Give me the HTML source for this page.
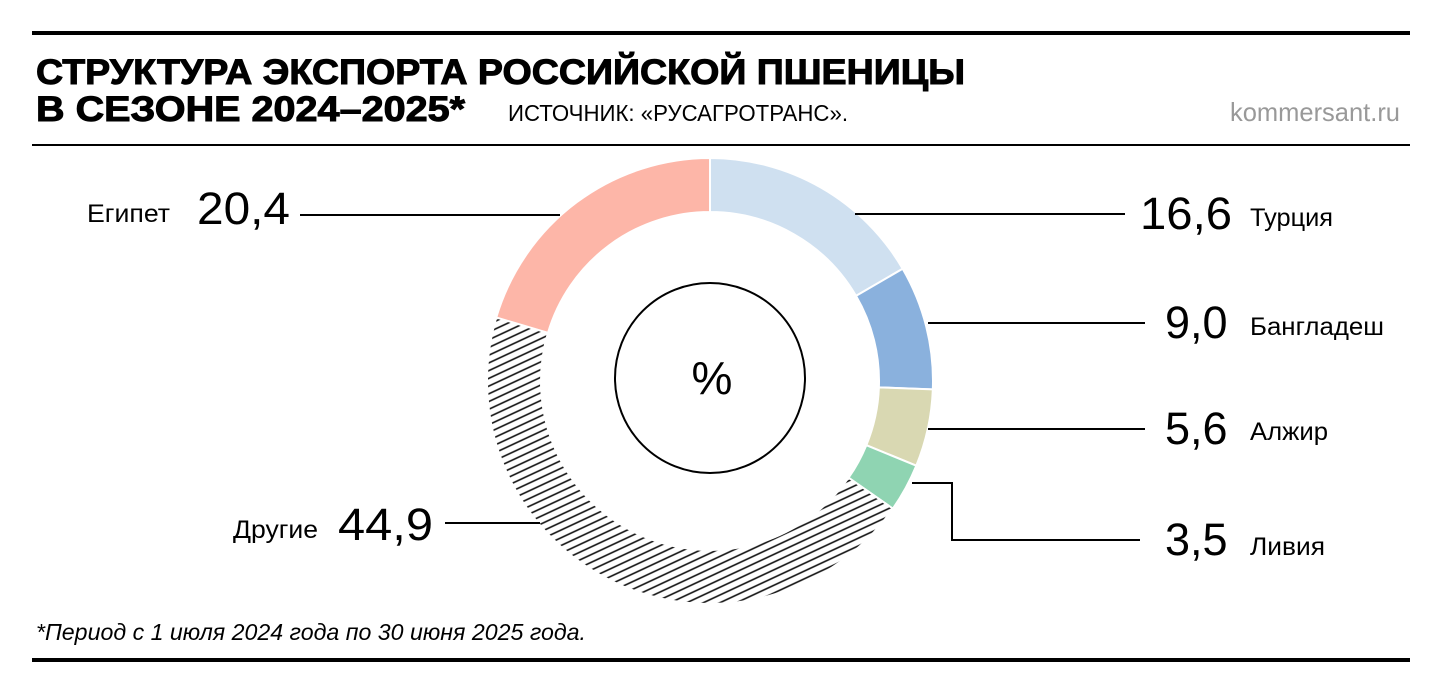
<!DOCTYPE html>
<html><head><meta charset="utf-8"><style>
body{margin:0;background:#fff;}
svg{display:block;font-family:"Liberation Sans",sans-serif;}
</style></head><body>
<svg width="1440" height="694" viewBox="0 0 1440 694">
<defs>
<pattern id="h" patternUnits="userSpaceOnUse" width="7" height="7" patternTransform="rotate(-25)">
<rect width="7" height="7" fill="#fff"/><line x1="0" y1="3.5" x2="7" y2="3.5" stroke="#111" stroke-width="1.6"/>
</pattern>
</defs>
<rect x="32" y="31" width="1378" height="4" fill="#000"/>
<rect x="32" y="144" width="1378" height="2" fill="#000"/>
<rect x="32" y="658" width="1378" height="4" fill="#000"/>
<text x="36" y="84" font-size="35" font-weight="900" textLength="929" lengthAdjust="spacingAndGlyphs" stroke="#000" stroke-width="1">СТРУКТУРА ЭКСПОРТА РОССИЙСКОЙ ПШЕНИЦЫ</text>
<text x="36" y="121" font-size="35" font-weight="900" textLength="429" lengthAdjust="spacingAndGlyphs" stroke="#000" stroke-width="1">В СЕЗОНЕ 2024–2025*</text>
<text x="508" y="121" font-size="23" textLength="340" lengthAdjust="spacingAndGlyphs">ИСТОЧНИК: «РУСАГРОТРАНС».</text>
<text x="1230" y="121" font-size="26" fill="#999" textLength="170" lengthAdjust="spacingAndGlyphs">kommersant.ru</text>
<g stroke="#fff" stroke-width="2">
<path d="M710,158 A223,223 0 0 1 902.67,268.72 L856.02,295.91 A169,169 0 0 0 710,212 Z" fill="#cfe0f0"/>
<path d="M902.67,268.72 A223,223 0 0 1 932.84,389.40 L878.88,387.37 A169,169 0 0 0 856.02,295.91 Z" fill="#8ab1dd"/>
<path d="M932.84,389.40 A223,223 0 0 1 916.29,465.70 L866.33,445.19 A169,169 0 0 0 878.88,387.37 Z" fill="#d9d8b2"/>
<path d="M916.29,465.70 A223,223 0 0 1 892.86,508.64 L848.58,477.73 A169,169 0 0 0 866.33,445.19 Z" fill="#8fd4b2"/>
<path d="M892.86,508.64 A223,223 0 0 1 496.25,317.44 L548.01,332.83 A169,169 0 0 0 848.58,477.73 Z" fill="url(#h)"/>
<path d="M496.25,317.44 A223,223 0 0 1 710,158 L710,212 A169,169 0 0 0 548.01,332.83 Z" fill="#fdb6a8"/>
</g>
<circle cx="710" cy="378" r="95" fill="none" stroke="#000" stroke-width="2"/>
<text x="712" y="394" font-size="46" text-anchor="middle">%</text>
<g stroke="#000" stroke-width="2" fill="none">
<line x1="300" y1="215" x2="560" y2="215"/>
<line x1="855" y1="214" x2="1125" y2="214"/>
<line x1="928" y1="323" x2="1145" y2="323"/>
<line x1="928" y1="429" x2="1145" y2="429"/>
<polyline points="912,483 952,483 952,540 1140,540"/>
<line x1="445" y1="523" x2="540" y2="523"/>
</g>
<g font-size="45">
<text x="197" y="224" textLength="93" lengthAdjust="spacingAndGlyphs">20,4</text>
<text x="1140" y="229" textLength="92" lengthAdjust="spacingAndGlyphs">16,6</text>
<text x="1165" y="338">9,0</text>
<text x="1165" y="444">5,6</text>
<text x="1165" y="555">3,5</text>
<text x="338" y="540" textLength="95" lengthAdjust="spacingAndGlyphs">44,9</text>
</g>
<g font-size="25">
<text x="87" y="222" textLength="83" lengthAdjust="spacingAndGlyphs">Египет</text>
<text x="1250" y="226" textLength="83" lengthAdjust="spacingAndGlyphs">Турция</text>
<text x="1250" y="335" textLength="134" lengthAdjust="spacingAndGlyphs">Бангладеш</text>
<text x="1250" y="440" textLength="78" lengthAdjust="spacingAndGlyphs">Алжир</text>
<text x="1250" y="555" textLength="75" lengthAdjust="spacingAndGlyphs">Ливия</text>
<text x="233" y="538" textLength="85" lengthAdjust="spacingAndGlyphs">Другие</text>
</g>
<text x="36" y="640" font-size="23" font-style="italic" textLength="550" lengthAdjust="spacingAndGlyphs">*Период с 1 июля 2024 года по 30 июня 2025 года.</text>
</svg>
</body></html>
